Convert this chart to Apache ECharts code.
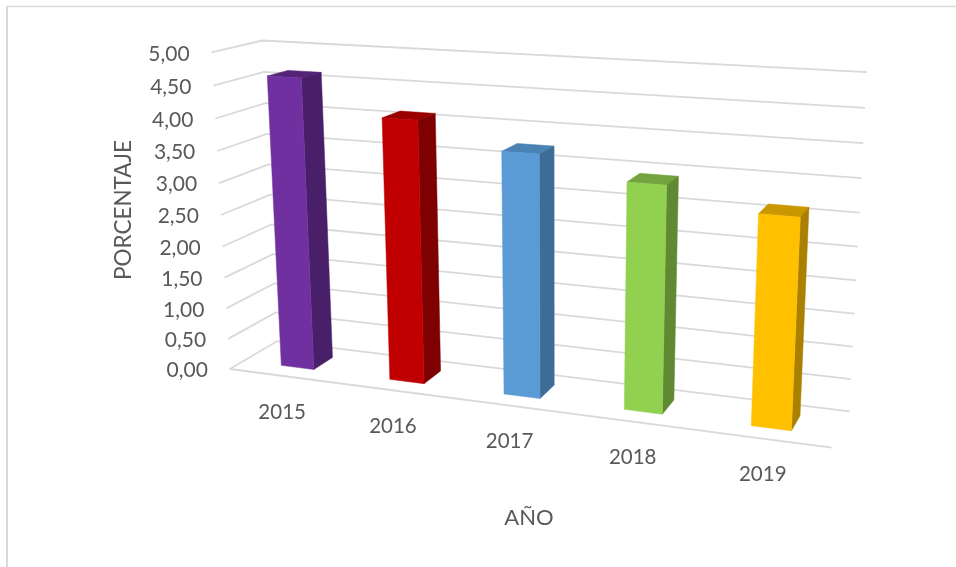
<!DOCTYPE html>
<html><head><meta charset="utf-8">
<style>html,body{margin:0;padding:0;background:#fff}#c{width:956px;height:567px}</style>
<script src="https://cdn.jsdelivr.net/npm/echarts@6/dist/echarts.min.js"></script>
</head><body><div id="c"></div>
<script>
const years = ['2015','2016','2017','2018','2019'];
const values = [4.62, 4.10, 3.73, 3.42, 3.12];
const yTicks = [0, 0.5, 1, 1.5, 2, 2.5, 3, 3.5, 4, 4.5, 5];
const tickLabels = ['0,00','0,50','1,00','1,50','2,00','2,50','3,00','3,50','4,00','4,50','5,00'];
const frontColors = ['#7030A0','#C00000','#5B9BD5','#92D050','#FFC000'];
const sideColors = ['#481F68','#7F0000','#3D6C96','#5F8A33','#AA8000'];
const topColors = ['#552478','#9A0000','#4A82B4','#72A33E','#C99700'];
const yTitle = 'PORCENTAJE';
const xTitle = 'AÑO';

// Perspective of the chart box: unit cube (u along years, v up the value axis, w into depth) -> screen
const cubeAnchors = [
  [0,0,0,229,369],[0,1,0,212,53],[0,0,1,278,341],[0,1,1,262,40],
  [1,0,1,849,412],[1,1,1,867,72],[1,0,0,832,447]
];
function solveCamera(pts){
  const A=[],b=[];
  pts.forEach(([x,y,z,sx,sy])=>{
    const X=sx/1000,Y=sy/1000;
    A.push([x,y,z,1,0,0,0,0,-X*x,-X*y,-X*z]);b.push(X);
    A.push([0,0,0,0,x,y,z,1,-Y*x,-Y*y,-Y*z]);b.push(Y);
  });
  const n=11,M=[];
  for(let i=0;i<n;i++){M.push(new Array(n+1).fill(0));
    for(let j=0;j<n;j++)for(let k=0;k<A.length;k++)M[i][j]+=A[k][i]*A[k][j];
    for(let k=0;k<A.length;k++)M[i][n]+=A[k][i]*b[k];
  }
  for(let c=0;c<n;c++){
    let p=c;for(let r=c+1;r<n;r++)if(Math.abs(M[r][c])>Math.abs(M[p][c]))p=r;
    [M[c],M[p]]=[M[p],M[c]];
    for(let r=0;r<n;r++){if(r===c)continue;const f=M[r][c]/M[c][c];for(let j=c;j<=n;j++)M[r][j]-=f*M[c][j];}
  }
  return M.map((row,i)=>row[n]/row[i]);
}
const cam=solveCamera(cubeAnchors);
function project(u,v,w){
  const d=cam[8]*u+cam[9]*v+cam[10]*w+1;
  return [1000*(cam[0]*u+cam[1]*v+cam[2]*w+cam[3])/d,1000*(cam[4]*u+cam[5]*v+cam[6]*w+cam[7])/d];
}
const W_FRONT=0.29,W_BACK=0.71,BAR_LEFT=0.145,BAR_RIGHT=0.16;
const TEXT='#595959',GRIDC='#D9D9D9',FONT='Lato';

function norm(api,params,x,y){
  const c=api.coord([x,y]),s=params.coordSys;
  return [(c[0]-s.x)/s.width,1-(c[1]-s.y)/s.height];
}
function poly(points,color,stroke){
  return {type:'polygon',shape:{points},style:{fill:color,stroke:stroke||color,lineWidth:0.5}};
}
function gridItem(params,api){
  const v=norm(api,params,0,api.value(0))[1];
  const s=project(0,v,0),m=project(0,v,1),e=project(1,v,1);
  const style={stroke:GRIDC,lineWidth:1.8,fill:null};
  const children=[{type:'polyline',shape:{points:[s,m,e]},style}];
  if(api.value(0)===0){children.push({type:'line',shape:{x1:s[0],y1:s[1],x2:project(1,0,0)[0],y2:project(1,0,0)[1]},style});}
  children.push({type:'text',style:{text:tickLabels[params.dataIndex],x:s[0]-22,y:s[1]+1.5,align:'right',verticalAlign:'middle',fill:TEXT,font:'21px '+FONT}});
  return {type:'group',children};
}
function barItem(params,api){
  const i=params.dataIndex;
  const band=api.size([1,0])[0]/params.coordSys.width;
  const c=norm(api,params,i,api.value(1));
  const u0=c[0]-band*BAR_LEFT,u1=c[0]+band*BAR_RIGHT,v=c[1];
  const P=(u,vv,w)=>project(u,vv,w);
  const lab=P(c[0],0,0);
  return {type:'group',children:[
    poly([P(u0,v,W_FRONT),P(u1,v,W_FRONT),P(u1,v,W_BACK),P(u0,v,W_BACK)],topColors[i]),
    poly([P(u1,0,W_FRONT),P(u1,v,W_FRONT),P(u1,v,W_BACK),P(u1,0,W_BACK)],sideColors[i]),
    poly([P(u0,0,W_FRONT),P(u1,0,W_FRONT),P(u1,v,W_FRONT),P(u0,v,W_FRONT)],frontColors[i]),
    {type:'text',style:{text:years[i],x:lab[0]-1,y:lab[1]+36,align:'center',verticalAlign:'middle',fill:TEXT,font:'20.5px '+FONT}}
  ]};
}
const chart=echarts.init(document.getElementById('c'),null,{renderer:'canvas'});
chart.setOption({
  animation:false,
  backgroundColor:'#fff',
  graphic:[
    {type:'line',shape:{x1:6,y1:6.5,x2:956,y2:6.5},style:{stroke:GRIDC,lineWidth:1.5}},
    {type:'line',shape:{x1:7,y1:6,x2:7,y2:567},style:{stroke:GRIDC,lineWidth:2}}
  ],
  grid:{left:212,top:50,width:634,height:320},
  xAxis:{type:'category',data:years,name:xTitle,nameLocation:'middle',nameGap:137,
    nameTextStyle:{color:TEXT,fontFamily:FONT,fontSize:22},
    axisLine:{show:false},axisTick:{show:false},axisLabel:{show:false},splitLine:{show:false}},
  yAxis:{type:'value',min:0,max:5,interval:0.5,name:yTitle,nameLocation:'middle',nameGap:77,
    nameTextStyle:{color:TEXT,fontFamily:FONT,fontSize:22.5},
    axisLine:{show:false},axisTick:{show:false},axisLabel:{show:false},splitLine:{show:false}},
  series:[
    {type:'custom',coordinateSystem:'cartesian2d',silent:true,z:1,clip:false,renderItem:gridItem,
      data:yTicks.map(t=>[t]),encode:{y:0}},
    {type:'custom',coordinateSystem:'cartesian2d',silent:true,z:2,clip:false,renderItem:barItem,
      data:values.map((v,i)=>[i,v]),encode:{x:0,y:1}}
  ]
});
</script></body></html>
